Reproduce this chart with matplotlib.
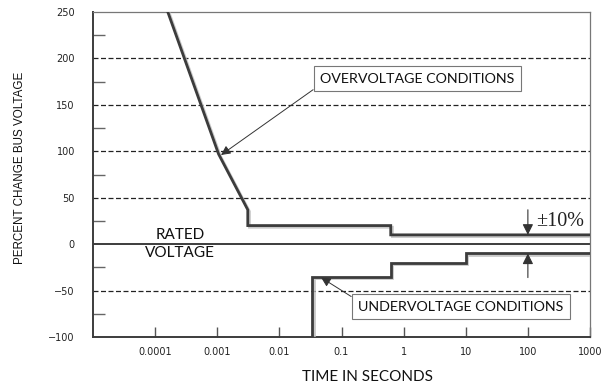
import matplotlib
matplotlib.use("Agg")
import matplotlib.pyplot as plt
import matplotlib.patheffects as pe
from matplotlib.ticker import FixedLocator, NullLocator

# overvoltage / undervoltage limit curves (time in s, percent change)
over_t = [1.6e-4, 1.05e-3, 3.1e-3, 3.1e-3, 0.62, 0.62, 1000]
over_v = [250, 97, 37, 20, 20, 10, 10]
under_t = [0.034, 0.034, 0.62, 0.62, 10, 10, 1000]
under_v = [-100, -35, -35, -20, -20, -10, -10]

x_ticks = [1e-4, 1e-3, 1e-2, 1e-1, 1, 10, 100, 1000]
x_labels = ["0.0001", "0.001", "0.01", "0.1", "1", "10", "100", "1000"]
y_ticks = [-100, -50, 0, 50, 100, 150, 200, 250]
y_minor = [-75, -25, 25, 75, 125, 175, 225]
grid_levels = [-50, 50, 100, 150, 200]

dark = "#3c3c3c"
shadow = [pe.SimpleLineShadow(offset=(1.2, -1.2), shadow_color="#bbbbbb", alpha=0.8), pe.Normal()]

fig = plt.figure(figsize=(6.11, 3.86), dpi=100)
ax = fig.add_axes([93 / 611, 1 - 337 / 386, 497 / 611, 325 / 386])
ax.set_xscale("log")
ax.set_xlim(1e-5, 1000)
ax.set_ylim(-100, 250)

for g in grid_levels:
    ax.axhline(g, color="#222222", lw=0.9, ls=(0, (4, 2)), zorder=1)
ax.axhline(0, color=dark, lw=1.4, zorder=2)

ax.plot(over_t, over_v, color=dark, lw=2.0, solid_joinstyle="miter", path_effects=shadow, zorder=3)
ax.plot(under_t, under_v, color=dark, lw=2.0, solid_joinstyle="miter", path_effects=shadow, zorder=3)

# ticks
ax.xaxis.set_major_locator(FixedLocator(x_ticks))
ax.set_xticklabels(x_labels)
ax.xaxis.set_minor_locator(NullLocator())
ax.yaxis.set_major_locator(FixedLocator(y_ticks))
ax.yaxis.set_minor_locator(FixedLocator(y_minor))
ax.tick_params(axis="x", which="major", direction="in", length=7, width=1, color="#555555",
               labelsize=7, pad=7)
ax.tick_params(axis="y", which="major", length=0, labelsize=7, pad=13)
ax.tick_params(axis="y", which="minor", direction="in", length=8.5, width=1, color="#666666")
for lab in ax.get_xticklabels() + ax.get_yticklabels():
    lab.set_color("#222222")

for s in ["left", "bottom"]:
    ax.spines[s].set_color(dark)
    ax.spines[s].set_linewidth(1.4)
for s in ["top", "right"]:
    ax.spines[s].set_color("#777777")
    ax.spines[s].set_linewidth(0.9)

# labels
fig.text(20 / 611, 1 - 168 / 386, "PERCENT CHANGE BUS VOLTAGE", rotation=90, ha="center", va="center",
         fontsize=8.4, family=["Liberation Sans Narrow", "Liberation Sans"], color="#111111")
fig.text(368 / 611, 1 - 377 / 386, "TIME IN SECONDS", ha="center", va="center",
         fontsize=11, family="Lato", color="#111111")

ax.text(2.5e-4, 10, "RATED", ha="center", va="center", fontsize=11, family="Lato", color="#111111")
ax.text(2.5e-4, -9.5, "VOLTAGE", ha="center", va="center", fontsize=11, family="Lato", color="#111111")

box = dict(boxstyle="square,pad=0.45", fc="white", ec="#777777", lw=0.8)
arrow = dict(arrowstyle="-|>", color="#333333", lw=0.7, mutation_scale=14, shrinkA=0, shrinkB=0)
ax.annotate("OVERVOLTAGE CONDITIONS", xy=(1.15e-3, 96), xytext=(1.65, 178), ha="center", va="center",
            fontsize=10.3, family="Lato", color="#111111", bbox=box,
            arrowprops=dict(arrow, relpos=(0, 0)), zorder=5)
ax.annotate("UNDERVOLTAGE CONDITIONS", xy=(0.047, -36), xytext=(8.3, -67.5), ha="center", va="center",
            fontsize=10.3, family="Lato", color="#111111", bbox=box,
            arrowprops=dict(arrow, relpos=(0, 1)), zorder=5)

# +/-10 % band arrows
band = dict(arrowstyle="-|>", color="#333333", lw=0.8, mutation_scale=16, shrinkA=0, shrinkB=0)
ax.annotate("", xy=(100, 10), xytext=(100, 37), arrowprops=band)
ax.annotate("", xy=(100, -10), xytext=(100, -36), arrowprops=band)
ax.text(135, 24, "\u00b110%", ha="left", va="center", fontsize=14.5, family="Liberation Serif", color="#222222")

fig.savefig("out.png", dpi=100)
